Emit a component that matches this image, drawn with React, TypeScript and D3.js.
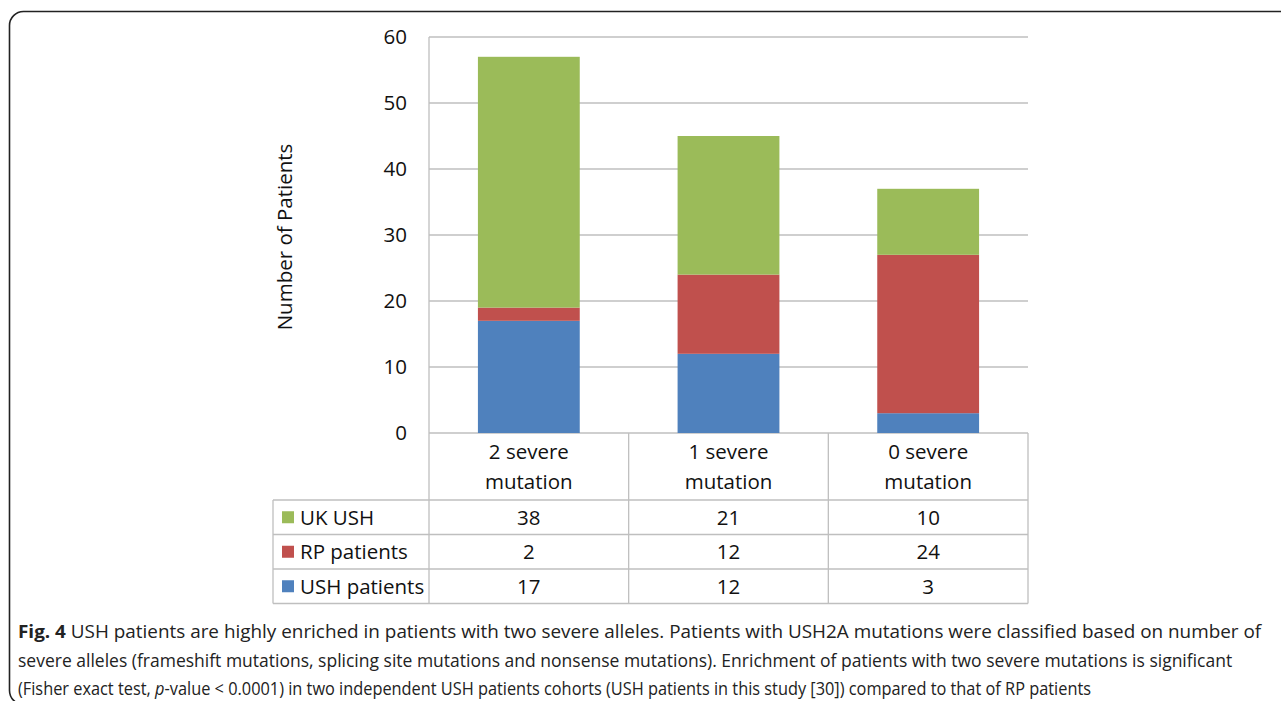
import { useLayoutEffect, useRef, useState } from "react";
import * as d3 from "d3";

const categories = ["2 severe mutation", "1 severe mutation", "0 severe mutation"];
const categoryLines = [["2 severe", "mutation"], ["1 severe", "mutation"], ["0 severe", "mutation"]];
const seriesNames = ["UK USH", "RP patients", "USH patients"];
const ukUsh = [38, 21, 10];
const rpPatients = [2, 12, 24];
const ushPatients = [17, 12, 3];
const yTicks = [0, 10, 20, 30, 40, 50, 60];
const colors = ["#9BBB59", "#C0504D", "#4F81BD"];

type Seg = { t: string; bold?: boolean; italic?: boolean };
const captionSegs: Seg[][] = [
  [
    { t: "Fig. 4", bold: true },
    { t: " USH patients are highly enriched in patients with two severe alleles. Patients with USH2A mutations were classified based on number of" },
  ],
  [{ t: "severe alleles (frameshift mutations, splicing site mutations and nonsense mutations). Enrichment of patients with two severe mutations is significant" }],
  [
    { t: "(Fisher exact test, " },
    { t: "p", italic: true },
    { t: "-value < 0.0001) in two independent USH patients cohorts (USH patients in this study [30]) compared to that of RP patients" },
  ],
];
const captionWidths = [1244, 1215, 1074];
const captionY = [638, 667, 695];

const W = 1281;
const H = 701;
const PLOT = { left: 429, right: 1028, top: 37, bottom: 433 };
const TABLE_LEFT = 273;
const ROW_H = 34.5;
const HEADER_BOTTOM = 500;
const FONT = "'Open Sans', sans-serif";
const FS = 20.5;

function Caption() {
  const refs = useRef<Record<string, SVGTextElement | null>>({});
  const [widths, setWidths] = useState<number[][] | null>(null);

  useLayoutEffect(() => {
    const w = captionSegs.map((line, i) =>
      line.map((_, j) => refs.current[`${i}-${j}`]?.getComputedTextLength() ?? 0)
    );
    setWidths(w);
  }, []);

  return (
    <g>
      {captionSegs.map((line, i) => {
        const lw = widths ? widths[i] : line.map(() => 0);
        const total = d3.sum(lw) || 1;
        const s = widths ? captionWidths[i] / total : 1;
        const offsets = d3.cumsum([0, ...lw]);
        return (
          <g key={i} transform={`translate(18,${captionY[i]}) scale(${s},1)`} opacity={widths ? 1 : 0}>
            {line.map((seg, j) => (
              <text
                key={j}
                ref={(el) => {
                  refs.current[`${i}-${j}`] = el;
                }}
                x={offsets[j]}
                y={0}
                fontFamily={FONT}
                fontSize={18.5}
                fontWeight={seg.bold ? "bold" : "normal"}
                fontStyle={seg.italic ? "italic" : "normal"}
                fill="#222"
                style={{ whiteSpace: "pre" }}
              >
                {seg.t}
              </text>
            ))}
          </g>
        );
      })}
    </g>
  );
}

export default function App() {
  const x = d3.scaleBand<string>().domain(categories).range([PLOT.left, PLOT.right]).paddingInner(0).paddingOuter(0);
  const y = d3.scaleLinear().domain([0, 60]).range([PLOT.bottom, PLOT.top]);
  const barW = x.bandwidth() * 0.51;

  // stack order: bottom USH patients, RP, UK USH on top
  const stackInput = categories.map((c, i) => ({
    cat: c,
    ush: ushPatients[i],
    rp: rpPatients[i],
    uk: ukUsh[i],
  }));
  const stack = d3.stack<any>().keys(["ush", "rp", "uk"])(stackInput);
  const stackColors: Record<string, string> = { ush: colors[2], rp: colors[1], uk: colors[0] };

  const tableRows = [ukUsh, rpPatients, ushPatients];
  const gridColor = "#bfbfbf";

  return (
    <svg width={W} height={H} style={{ position: "absolute", left: 0, top: 0, background: "#fff" }}>
      {/* outer frame, runs off the right and bottom edges */}
      <rect x={9.5} y={11.5} width={1300} height={693} rx={14} fill="none" stroke="#222" strokeWidth={1.6} />

      {/* gridlines */}
      {yTicks.map((t) => (
        <line key={t} x1={PLOT.left} x2={PLOT.right} y1={y(t)} y2={y(t)} stroke={gridColor} strokeWidth={1.3} />
      ))}
      <line x1={PLOT.left} x2={PLOT.left} y1={PLOT.top} y2={PLOT.bottom} stroke={gridColor} strokeWidth={1.3} />

      {/* tick labels */}
      {yTicks.map((t) => (
        <text key={t} x={407} y={y(t)} dy="0.36em" textAnchor="end" fontFamily={FONT} fontSize={FS} fill="#111">
          {t}
        </text>
      ))}

      <text
        transform={`translate(292,${(PLOT.top + PLOT.bottom) / 2 + 2}) rotate(-90)`}
        textAnchor="middle"
        fontFamily={FONT}
        fontSize={FS}
        fill="#111"
      >
        Number of Patients
      </text>

      {/* bars */}
      {stack.map((layer) =>
        layer.map((d, i) => (
          <rect
            key={layer.key + i}
            x={(x(categories[i]) as number) + (x.bandwidth() - barW) / 2}
            y={y(d[1])}
            width={barW}
            height={y(d[0]) - y(d[1])}
            fill={stackColors[layer.key]}
          />
        ))
      )}

      {/* data table */}
      {[...categories.map((c) => x(c) as number), PLOT.right].map((xx, i) => (
        <line key={"v" + i} x1={xx} x2={xx} y1={PLOT.bottom} y2={HEADER_BOTTOM + ROW_H * 3} stroke={gridColor} strokeWidth={1.3} />
      ))}
      <line x1={TABLE_LEFT} x2={TABLE_LEFT} y1={HEADER_BOTTOM} y2={HEADER_BOTTOM + ROW_H * 3} stroke={gridColor} strokeWidth={1.3} />
      {[0, 1, 2, 3].map((r) => (
        <line
          key={"h" + r}
          x1={TABLE_LEFT}
          x2={PLOT.right}
          y1={HEADER_BOTTOM + ROW_H * r}
          y2={HEADER_BOTTOM + ROW_H * r}
          stroke={gridColor}
          strokeWidth={1.3}
        />
      ))}

      {categoryLines.map((lines, i) =>
        lines.map((ln, j) => (
          <text
            key={"c" + i + j}
            x={(x(categories[i]) as number) + x.bandwidth() / 2}
            y={452 + j * 29.5}
            dy="0.36em"
            textAnchor="middle"
            fontFamily={FONT}
            fontSize={FS}
            fill="#111"
          >
            {ln}
          </text>
        ))
      )}

      {seriesNames.map((name, r) => {
        const cy = HEADER_BOTTOM + ROW_H * r + ROW_H / 2;
        return (
          <g key={name}>
            <rect x={282} y={cy - 6} width={12} height={12} fill={colors[r]} />
            <text x={300} y={cy} dy="0.36em" fontFamily={FONT} fontSize={FS} fill="#111">
              {name}
            </text>
            {tableRows[r].map((v, i) => (
              <text
                key={i}
                x={(x(categories[i]) as number) + x.bandwidth() / 2}
                y={cy}
                dy="0.36em"
                textAnchor="middle"
                fontFamily={FONT}
                fontSize={FS}
                fill="#111"
              >
                {v}
              </text>
            ))}
          </g>
        );
      })}

      <Caption />
    </svg>
  );
}
